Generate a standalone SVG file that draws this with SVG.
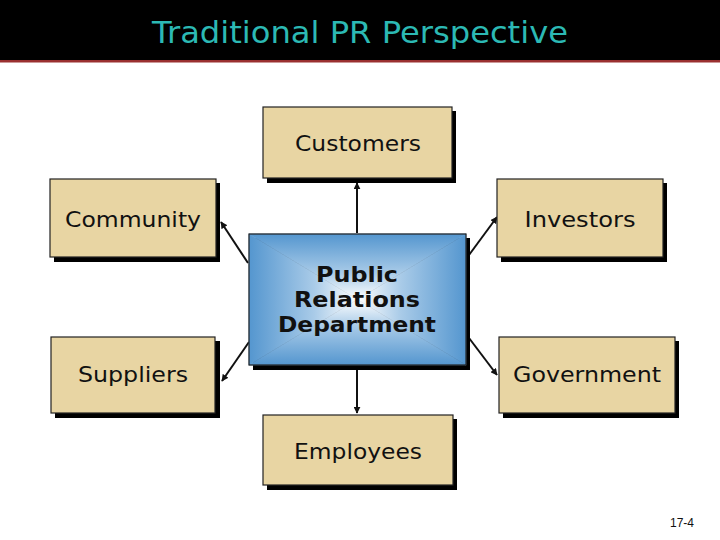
<svg xmlns="http://www.w3.org/2000/svg" width="720" height="540" viewBox="0 0 720 540">
<defs>
<style>
.box{fill:#e8d5a3;stroke:#222;stroke-width:1.2}
.shadow{fill:#000}
.lbl{font-family:"DejaVu Sans",Verdana,sans-serif;font-size:22px;fill:#111;text-anchor:middle}
.pr{font-family:"DejaVu Sans",Verdana,sans-serif;font-size:22px;font-weight:bold;fill:#111;text-anchor:middle}
.conn{stroke:#111;stroke-width:2;fill:none;marker-end:url(#ah)}
</style>
<marker id="ah" viewBox="0 0 10 10" refX="9" refY="5" markerWidth="3.5" markerHeight="3.5" orient="auto" markerUnits="strokeWidth">
<path d="M0,0 L10,5 L0,10 z" fill="#111"/>
</marker>
<linearGradient id="gT" gradientUnits="userSpaceOnUse" x1="0" y1="234" x2="0" y2="299.5">
<stop offset="0" stop-color="#5496cf"/><stop offset="0.6" stop-color="#a9cbe8"/><stop offset="1" stop-color="#ffffff"/>
</linearGradient>
<linearGradient id="gB" gradientUnits="userSpaceOnUse" x1="0" y1="365" x2="0" y2="299.5">
<stop offset="0" stop-color="#5496cf"/><stop offset="0.6" stop-color="#a9cbe8"/><stop offset="1" stop-color="#ffffff"/>
</linearGradient>
<linearGradient id="gL" gradientUnits="userSpaceOnUse" x1="249" y1="0" x2="357.5" y2="0">
<stop offset="0" stop-color="#5496cf"/><stop offset="0.6" stop-color="#a9cbe8"/><stop offset="1" stop-color="#ffffff"/>
</linearGradient>
<linearGradient id="gR" gradientUnits="userSpaceOnUse" x1="466" y1="0" x2="357.5" y2="0">
<stop offset="0" stop-color="#5496cf"/><stop offset="0.6" stop-color="#a9cbe8"/><stop offset="1" stop-color="#ffffff"/>
</linearGradient>
</defs>
<rect x="0" y="0" width="720" height="540" fill="#fff"/>
<g id="title">
<rect x="0" y="0" width="720" height="60" fill="#000"/>
<rect x="0" y="60" width="720" height="2.5" fill="#9a3030"/>
<text x="360" y="43" font-family="'DejaVu Sans',Verdana,sans-serif" font-size="31" fill="#2cb9b4" text-anchor="middle" textLength="416" lengthAdjust="spacingAndGlyphs">Traditional PR Perspective</text>
</g>
<g id="connectors">
<line class="conn" x1="357" y1="233" x2="357" y2="183"/>
<line class="conn" x1="357" y1="370" x2="357" y2="413"/>
<line class="conn" x1="248" y1="263" x2="221" y2="222"/>
<line class="conn" x1="469" y1="255" x2="497" y2="217"/>
<line class="conn" x1="249" y1="342" x2="222" y2="381"/>
<line class="conn" x1="469" y1="338" x2="497" y2="375"/>
</g>
<g id="customers">
<rect class="shadow" x="267" y="111" width="189" height="72"/>
<rect class="box" x="263" y="107" width="189" height="71"/>
<text class="lbl" x="358" y="151" textLength="126" lengthAdjust="spacingAndGlyphs">Customers</text>
</g>
<g id="community">
<rect class="shadow" x="54" y="183" width="166" height="79"/>
<rect class="box" x="50" y="179" width="166" height="78"/>
<text class="lbl" x="133" y="227" textLength="136" lengthAdjust="spacingAndGlyphs">Community</text>
</g>
<g id="investors">
<rect class="shadow" x="501" y="183" width="166" height="79"/>
<rect class="box" x="497" y="179" width="166" height="78"/>
<text class="lbl" x="580" y="227" textLength="111" lengthAdjust="spacingAndGlyphs">Investors</text>
</g>
<g id="pr-department">
<rect class="shadow" x="253" y="238" width="217" height="132"/>
<polygon points="249,234 466,234 357.5,299.5" fill="url(#gT)" stroke="url(#gT)" stroke-width="0.6"/>
<polygon points="249,365 466,365 357.5,299.5" fill="url(#gB)" stroke="url(#gB)" stroke-width="0.6"/>
<polygon points="249,234 249,365 357.5,299.5" fill="url(#gL)" stroke="url(#gL)" stroke-width="0.6"/>
<polygon points="466,234 466,365 357.5,299.5" fill="url(#gR)" stroke="url(#gR)" stroke-width="0.6"/>
<rect x="249" y="234" width="217" height="131" fill="none" stroke="#222" stroke-width="1.2"/>
<text class="pr" x="357" y="282" textLength="82" lengthAdjust="spacingAndGlyphs">Public</text>
<text class="pr" x="357" y="307" textLength="126" lengthAdjust="spacingAndGlyphs">Relations</text>
<text class="pr" x="357" y="332" textLength="158" lengthAdjust="spacingAndGlyphs">Department</text>
</g>
<g id="suppliers">
<rect class="shadow" x="55" y="341" width="165" height="77"/>
<rect class="box" x="51" y="337" width="164" height="76"/>
<text class="lbl" x="133" y="382" textLength="110" lengthAdjust="spacingAndGlyphs">Suppliers</text>
</g>
<g id="government">
<rect class="shadow" x="503" y="341" width="176" height="77"/>
<rect class="box" x="499" y="337" width="176" height="76"/>
<text class="lbl" x="587" y="382" textLength="148" lengthAdjust="spacingAndGlyphs">Government</text>
</g>
<g id="employees">
<rect class="shadow" x="267" y="419" width="190" height="71"/>
<rect class="box" x="263" y="415" width="190" height="70"/>
<text class="lbl" x="358" y="459" textLength="128" lengthAdjust="spacingAndGlyphs">Employees</text>
</g>
<text x="694" y="527" font-family="'Liberation Sans',Arial,sans-serif" font-size="12" fill="#111" text-anchor="end">17-4</text>
</svg>
